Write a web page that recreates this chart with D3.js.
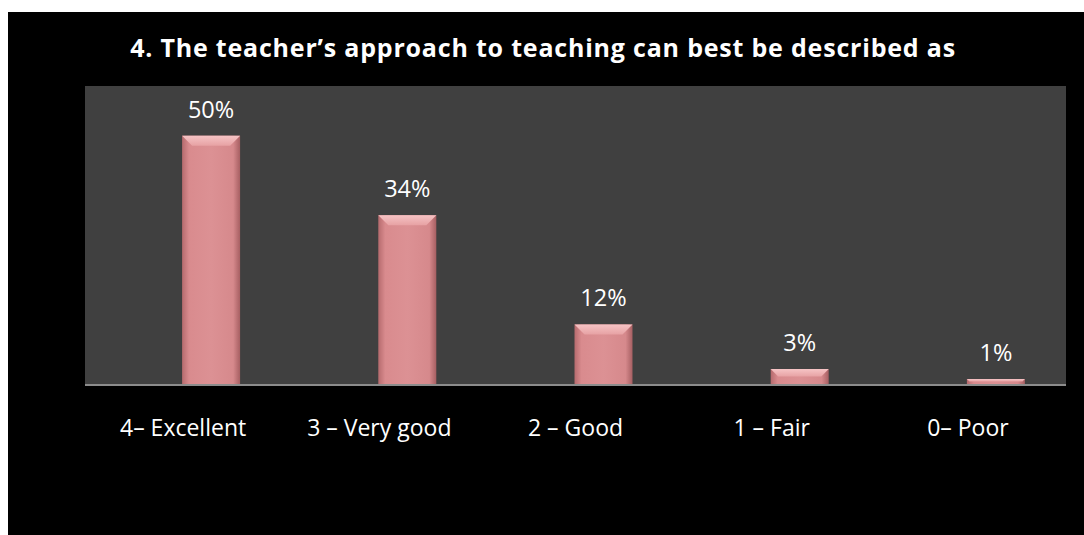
<!DOCTYPE html>
<html>
<head>
<meta charset="utf-8">
<script src="https://d3js.org/d3.v7.min.js"></script>
<style>
  body { margin: 0; background: #fff; }
  text { font-family: "Open Sans", sans-serif; fill: #fff; }
</style>
</head>
<body>
<script>
  var title = "4. The teacher\u2019s approach to teaching can best be described as";
  var categories = ["4\u2013 Excellent", "3 \u2013 Very good", "2 \u2013 Good", "1 \u2013 Fair", "0\u2013 Poor"];
  var values = [0.50, 0.34, 0.12, 0.03, 0.01];
  var labels = ["50%", "34%", "12%", "3%", "1%"];

  var W = 1084, H = 535;
  var plot = {left: 85, right: 1066, top: 86, bottom: 384};

  var svg = d3.select("body").append("svg")
    .attr("width", W).attr("height", H);

  // black chart area with a thin white border at top and left
  svg.append("rect").attr("x", 8).attr("y", 12).attr("width", W - 8).attr("height", H - 12).attr("fill", "#000");
  svg.append("rect")
    .attr("x", plot.left).attr("y", plot.top)
    .attr("width", plot.right - plot.left).attr("height", plot.bottom - plot.top)
    .attr("fill", "#404040");

  var defs = svg.append("defs");
  var g1 = defs.append("linearGradient").attr("id", "barGrad").attr("x1", 0).attr("x2", 1).attr("y1", 0).attr("y2", 0);
  g1.append("stop").attr("offset", "0").attr("stop-color", "#b66b6e");
  g1.append("stop").attr("offset", "0.12").attr("stop-color", "#d98b8e");
  g1.append("stop").attr("offset", "0.5").attr("stop-color", "#dc9194");
  g1.append("stop").attr("offset", "0.88").attr("stop-color", "#d6898c");
  g1.append("stop").attr("offset", "1").attr("stop-color", "#a65f62");
  var g2 = defs.append("linearGradient").attr("id", "topGrad").attr("x1", 0).attr("x2", 0).attr("y1", 0).attr("y2", 1);
  g2.append("stop").attr("offset", "0").attr("stop-color", "#f6c4c5");
  g2.append("stop").attr("offset", "1").attr("stop-color", "#e7a2a4");

  var x = d3.scaleBand().domain(categories).range([plot.left, plot.right]);
  var y = d3.scaleLinear().domain([0, 0.6]).range([plot.bottom, plot.top]);

  var barW = 58, barShift = 28;

  svg.append("text")
    .attr("x", 543).attr("y", 57)
    .attr("text-anchor", "middle")
    .style("font-weight", "bold").style("font-size", "25px")
    .style("letter-spacing", "0.8px")
    .text(title);

  var bars = svg.selectAll(".bar").data(values).enter().append("g").attr("class", "bar");

  bars.append("rect")
    .attr("x", (d, i) => x(categories[i]) + x.bandwidth() / 2 + barShift - barW / 2)
    .attr("y", d => y(d))
    .attr("width", barW)
    .attr("height", d => plot.bottom - y(d))
    .attr("fill", "url(#barGrad)");

  // bevel at the top of each bar
  bars.append("path")
    .attr("d", (d, i) => {
      var x0 = x(categories[i]) + x.bandwidth() / 2 + barShift - barW / 2;
      var y0 = y(d);
      var h = Math.min(10, (plot.bottom - y0) / 2);
      return "M" + x0 + "," + y0 + "L" + (x0 + barW) + "," + y0 +
        "L" + (x0 + barW - h) + "," + (y0 + h) + "L" + (x0 + h) + "," + (y0 + h) + "Z";
    })
    .attr("fill", "url(#topGrad)");

  bars.append("text")
    .attr("x", (d, i) => x(categories[i]) + x.bandwidth() / 2 + barShift)
    .attr("y", d => y(d) - 18)
    .attr("text-anchor", "middle")
    .style("font-size", "23.5px")
    .text((d, i) => labels[i]);

  // axis line
  svg.append("line")
    .attr("x1", plot.left).attr("x2", plot.right)
    .attr("y1", plot.bottom + 1).attr("y2", plot.bottom + 1)
    .attr("stroke", "#8c8c8c").attr("stroke-width", 2);

  var xAxis = d3.axisBottom(x).tickSize(0).tickPadding(0);
  var ax = svg.append("g")
    .attr("transform", "translate(0," + (plot.bottom + 52) + ")")
    .call(xAxis);
  ax.select(".domain").remove();
  ax.selectAll("text")
    .attr("y", 0).attr("dy", 0)
    .style("font-size", "23px")
    .style("fill", "#fff");
</script>
</body>
</html>
